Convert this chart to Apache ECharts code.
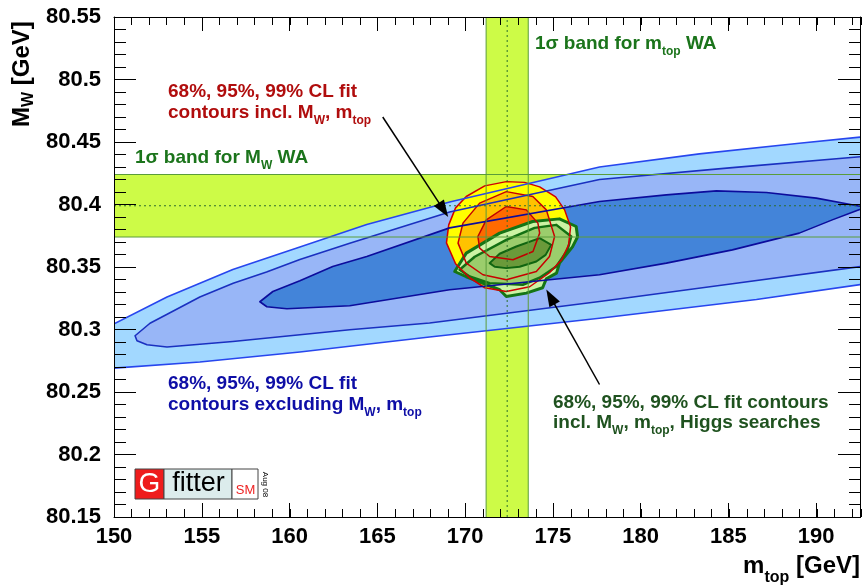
<!DOCTYPE html>
<html><head><meta charset="utf-8">
<script src="https://cdn.jsdelivr.net/npm/echarts@6/dist/echarts.min.js"></script>
<style>html,body{margin:0;padding:0;background:#fff}#c{width:863px;height:587px}</style>
</head><body><div id="c"></div>
<script>
// ---------------- data ----------------
const xMin = 150, xMax = 192.5, yMin = 80.15, yMax = 80.55;
const xTickLabels = ['150','155','160','165','170','175','180','185','190'];
const yTickLabels = ['80.15','80.2','80.25','80.3','80.35','80.4','80.45','80.5','80.55'];

// 1 sigma world averages
const mwBand = [80.374, 80.424];
const mwCentral = 80.399;
const mtopBand = [171.2, 173.6];
const mtopCentral = 172.4;

// fit contours excluding MW, mtop (blue)  [mtop, MW]
const blue99 = [[149.2,80.297],[149.94,80.304],[153.02,80.326],[156.77,80.348],[160.59,80.366],[164.40,80.384],[169.12,80.402],[177.66,80.430],[183.35,80.4405],[189.04,80.449],[192.57,80.454],[193.6,80.456],
  [193.6,80.338],[192.57,80.336],[186.6,80.324],[177.66,80.309],[167.98,80.294],[160.59,80.282],[154.89,80.274],[149.94,80.269],[149.2,80.267]];
const blue95 = [[151.20,80.295],[152.05,80.305],[153.0,80.312],[154.89,80.326],[156.79,80.337],[158.69,80.346],[160.59,80.356],[163.43,80.369],[169.12,80.394],[177.66,80.420],[185.23,80.4295],[192.57,80.4383],[193.6,80.4397],
  [193.6,80.3526],[192.57,80.3504],[185.23,80.3366],[177.66,80.3224],[167.98,80.3052],[163.43,80.2998],[156.77,80.2904],[153.02,80.286],[151.88,80.2878],[151.31,80.291]];
const blue68 = [[158.31,80.3222],[159.05,80.3304],[160.59,80.339],[162.46,80.3504],[164.40,80.3584],[169.12,80.3813],[177.66,80.4024],[181.47,80.4077],[184.32,80.4109],[187.17,80.4096],[190.01,80.4051],[192.57,80.3984],[192.8,80.3977],
  [190.92,80.3877],[189.04,80.3771],[185.23,80.3637],[181.47,80.3531],[177.66,80.3438],[169.12,80.3318],[163.43,80.319],[159.85,80.3166],[158.71,80.3182]];

// fit contours incl. MW, mtop (red)
const red99 = [[168.94,80.3693],[169.07,80.3837],[169.46,80.3973],[170.07,80.4064],[171.12,80.4149],[172.35,80.4183],[173.39,80.4177],[174.25,80.4141],[175.16,80.4061],[175.67,80.3957],[176.01,80.3821],[175.90,80.3677],[175.50,80.3558],[174.81,80.3454],[173.68,80.3342],[172.35,80.3304],[171.12,80.3334],[170.26,80.3414],[169.46,80.3526]];
const red95 = [[169.60,80.3691],[169.88,80.3851],[170.83,80.4011],[172.35,80.4103],[173.86,80.4064],[174.63,80.3957],[175.10,80.3744],[174.81,80.3584],[174.06,80.3464],[172.35,80.3398],[171.02,80.3438],[170.07,80.3531]];
const red68 = [[170.73,80.3744],[171.21,80.3877],[172.35,80.3984],[173.49,80.3957],[174.15,80.3851],[174.25,80.3771],[173.87,80.3624],[172.73,80.3558],[171.40,80.3584],[170.83,80.3651]];

// fit contours incl. MW, mtop, Higgs searches (green)
const green99 = [[169.41,80.3464],[170.07,80.3611],[171.97,80.3771],[173.85,80.3864],[175.38,80.3885],[176.33,80.3824],[176.41,80.3741],[176.12,80.3661],[175.38,80.3531],[175.21,80.3451],[174.63,80.3406],[174.42,80.3334],[173.49,80.3291],[172.35,80.3264],[171.97,80.3318],[170.07,80.3422]];
const green95 = [[169.69,80.3478],[170.55,80.3582],[172.35,80.3717],[173.96,80.3813],[175.20,80.3837],[176.05,80.3744],[175.84,80.3637],[175.20,80.3504],[174.25,80.3414],[173.29,80.3358],[171.40,80.3371],[170.26,80.3424]];
const green68 = [[171.40,80.3531],[171.97,80.3606],[172.92,80.3664],[174.25,80.3731],[174.91,80.3677],[174.59,80.3597],[174.06,80.3544],[173.11,80.3502],[172.35,80.3491],[171.69,80.3502]];

// annotation arrows [from, to]
const arrowRed = [[165.31,80.470],[169.04,80.390]];
const arrowGreen = [[177.66,80.256],[174.63,80.332]];

// ---------------- chart ----------------
const F = "'Liberation Sans', Arial, Helvetica, sans-serif";
const chart = echarts.init(document.getElementById('c'), null, {renderer:'canvas'});

function clipOf(params){
  const cs = params.coordSys;
  return {type:'rect', shape:{x:cs.x, y:cs.y, width:cs.width, height:cs.height}};
}
function polySeries(points, fill, stroke, lw, dash){
  return {
    type:'custom', coordinateSystem:'cartesian2d', xAxisIndex:0, yAxisIndex:0,
    silent:true, clip:true, data:[0], animation:false,
    renderItem:function(params, api){
      const pts = points.map(p => api.coord(p));
      return {type:'polygon', shape:{points:pts},
        style:{fill:fill||'none', stroke:stroke||'none', lineWidth:lw||0, lineDash:dash||null, lineJoin:'round'},
        clipPath:clipOf(params)};
    }
  };
}
function lineSeries(points, stroke, lw, dash){
  return {
    type:'custom', coordinateSystem:'cartesian2d', xAxisIndex:0, yAxisIndex:0,
    silent:true, clip:true, data:[0], animation:false,
    renderItem:function(params, api){
      const pts = points.map(p => api.coord(p));
      return {type:'polyline', shape:{points:pts},
        style:{fill:'none', stroke:stroke, lineWidth:lw, lineDash:dash||null},
        clipPath:clipOf(params)};
    }
  };
}
function arrowSeries(seg){
  return {
    type:'custom', coordinateSystem:'cartesian2d', xAxisIndex:0, yAxisIndex:0,
    silent:true, data:[0], animation:false,
    renderItem:function(params, api){
      const a = api.coord(seg[0]), b = api.coord(seg[1]);
      const dx = b[0]-a[0], dy = b[1]-a[1], len = Math.sqrt(dx*dx+dy*dy);
      const ux = dx/len, uy = dy/len, hl = 17, hw = 6;
      const bx = b[0]-ux*hl, by = b[1]-uy*hl;
      return {type:'group', children:[
        {type:'line', shape:{x1:a[0], y1:a[1], x2:bx+ux*2, y2:by+uy*2}, style:{stroke:'#000', lineWidth:1.5}},
        {type:'polygon', shape:{points:[[b[0],b[1]],[bx-uy*hw,by+ux*hw],[bx+uy*hw,by-ux*hw]]}, style:{fill:'#000'}}
      ]};
    }
  };
}
const rectPts = (x0,x1,y0,y1) => [[x0,y0],[x1,y0],[x1,y1],[x0,y1]];

const bandFill = '#cdfb47';
const bandEdge = '#5a9c3a';
const series = [
  polySeries(rectPts(xMin, xMax, mwBand[0], mwBand[1]), bandFill),
  polySeries(rectPts(mtopBand[0], mtopBand[1], yMin, yMax), bandFill),
  polySeries(blue99, '#a2d8ff'),
  polySeries(blue95, '#98b6f7'),
  polySeries(blue68, '#4384d9'),
  polySeries(red99, '#ffff00'),
  polySeries(red95, '#ffc200'),
  polySeries(red68, '#ff6a00'),
  polySeries(green99, '#ccf3a4'),
  polySeries(green95, '#9bcd6c'),
  polySeries(green68, '#6a9a3a'),
  polySeries(green99, null, '#157515', 3),
  polySeries(green95, null, '#137013', 2.5),
  polySeries(green68, null, '#106510', 2),
  polySeries(red99, null, '#d00000', 1.5),
  polySeries(red95, null, '#c80000', 1.5),
  polySeries(red68, null, '#c00000', 1.5),
  polySeries(blue99, null, '#2746ee', 1.6),
  polySeries(blue95, null, '#1a30c0', 1.6),
  polySeries(blue68, null, '#0c0c9c', 1.6),
  lineSeries([[xMin, mwBand[0]],[xMax, mwBand[0]]], bandEdge, 1),
  lineSeries([[xMin, mwBand[1]],[xMax, mwBand[1]]], bandEdge, 1),
  lineSeries([[mtopBand[0], yMin],[mtopBand[0], yMax]], bandEdge, 1),
  lineSeries([[mtopBand[1], yMin],[mtopBand[1], yMax]], bandEdge, 1),
  lineSeries([[xMin, mwCentral],[xMax, mwCentral]], '#2c6e2c', 1, [2,3]),
  lineSeries([[mtopCentral, yMin],[mtopCentral, yMax]], '#2c6e2c', 1, [2,3]),
  arrowSeries(arrowRed),
  arrowSeries(arrowGreen)
];

function xFmt(v){ const s = String(Math.round(v*100)/100); return xTickLabels.indexOf(s) >= 0 ? s : ''; }
function yFmt(v){ const s = String(Math.round(v*100)/100); return yTickLabels.indexOf(s) >= 0 ? s : ''; }

function axisX(grid, pos, interval, tickLen, showLabel, showLine){
  return {type:'value', gridIndex:grid, position:pos, min:xMin, max:xMax, interval:interval, z:10,
    axisLine:{show:showLine, onZero:false, lineStyle:{color:'#000', width:1}},
    axisTick:{show:true, inside:true, length:tickLen, lineStyle:{color:'#000', width:1}},
    axisLabel:{show:showLabel, formatter:xFmt, fontSize:22, fontWeight:'bold', fontFamily:F, color:'#000', margin:9},
    splitLine:{show:false}};
}
function axisY(grid, pos, interval, tickLen, showLabel, showLine){
  return {type:'value', gridIndex:grid, position:pos, min:yMin, max:yMax, interval:interval, z:10,
    axisLine:{show:showLine, onZero:false, lineStyle:{color:'#000', width:1}},
    axisTick:{show:true, inside:true, length:tickLen, lineStyle:{color:'#000', width:1}},
    axisLabel:{show:showLabel, formatter:yFmt, fontSize:22, fontWeight:'bold', fontFamily:F, color:'#000', margin:13},
    splitLine:{show:false}};
}

function rich(x, y, text, color, fs, subFs, L, align, rotation){
  const bold = 'bold ';
  return {type:'text', x:x, y:y, rotation:rotation||0, z:100, silent:true,
    style:{text:text, align:align||'left', verticalAlign:'middle', fill:color, font:bold+fs+'px '+F,
      rich:{
        a:{font:bold+fs+'px '+F, fill:color, lineHeight:L, verticalAlign:'middle'},
        s:{font:bold+subFs+'px '+F, fill:color, lineHeight:subFs, verticalAlign:'bottom'}
      }}};
}
const cRed = '#b00d0d', cBlue = '#0e0ea6', cGreen = '#1b741b', cDGreen = '#1f521f';
const graphic = [
  rich(168, 92, '{a|68%, 95%, 99% CL fit}', cRed, 19, 12, 28),
  rich(168, 113, '{a|contours incl. M}{s|W}{a|, m}{s|top}', cRed, 19, 12, 28),
  rich(135, 157.5, '{a|1σ band for M}{s|W}{a| WA}', cGreen, 19, 12, 28),
  rich(535, 44, '{a|1σ band for m}{s|top}{a| WA}', cGreen, 19, 12, 28),
  rich(168, 384, '{a|68%, 95%, 99% CL fit}', cBlue, 19, 12, 28),
  rich(168, 405, '{a|contours excluding M}{s|W}{a|, m}{s|top}', cBlue, 19, 12, 28),
  rich(553, 403, '{a|68%, 95%, 99% CL fit contours}', cDGreen, 19, 12, 28),
  rich(553, 423, '{a|incl. M}{s|W}{a|, m}{s|top}{a|, Higgs searches}', cDGreen, 19, 12, 28),
  rich(860, 566, '{a|m}{s|top}{a| [GeV]}', '#000', 24, 16, 40, 'right'),
  rich(22, 127, '{a|M}{s|W}{a| [GeV]}', '#000', 24, 16, 30, 'left', Math.PI/2),
  // Gfitter logo
  {type:'rect', shape:{x:135, y:469, width:29, height:30}, style:{fill:'#ee1c1c', stroke:'#444', lineWidth:1}, z:100},
  {type:'rect', shape:{x:164, y:469, width:68, height:30}, style:{fill:'#dcecec', stroke:'#444', lineWidth:1}, z:100},
  {type:'rect', shape:{x:232, y:469, width:26, height:30}, style:{fill:'#ffffff', stroke:'#444', lineWidth:1}, z:100},
  {type:'text', x:149.5, y:484, z:101, style:{text:'G', font:'28px '+F, fill:'#fff', align:'center', verticalAlign:'middle'}},
  {type:'text', x:198.5, y:484, z:101, style:{text:'fitter', font:'27px '+F, fill:'#000', align:'center', verticalAlign:'middle'}},
  {type:'text', x:245.5, y:490, z:101, style:{text:'SM', font:'13px '+F, fill:'#ee2222', align:'center', verticalAlign:'middle'}},
  {type:'text', x:265, y:484.5, rotation:-Math.PI/2, z:101, style:{text:'Aug 08', font:'8px '+F, fill:'#000', align:'center', verticalAlign:'middle'}}
];

chart.setOption({
  animation:false,
  backgroundColor:'#ffffff',
  grid:[
    {left:114, right:2, top:17, bottom:70, containLabel:false},
    {left:114, right:2, top:17, bottom:70, containLabel:false}
  ],
  xAxis:[
    axisX(0,'bottom',5,14,true,true),
    axisX(0,'top',5,14,false,true),
    axisX(1,'bottom',1,8,false,false),
    axisX(1,'top',1,8,false,false)
  ],
  yAxis:[
    axisY(0,'left',0.05,22,true,true),
    axisY(0,'right',0.05,22,false,true),
    axisY(1,'left',0.01,12,false,false),
    axisY(1,'right',0.01,12,false,false)
  ],
  series:series,
  graphic:graphic
});
</script></body></html>
